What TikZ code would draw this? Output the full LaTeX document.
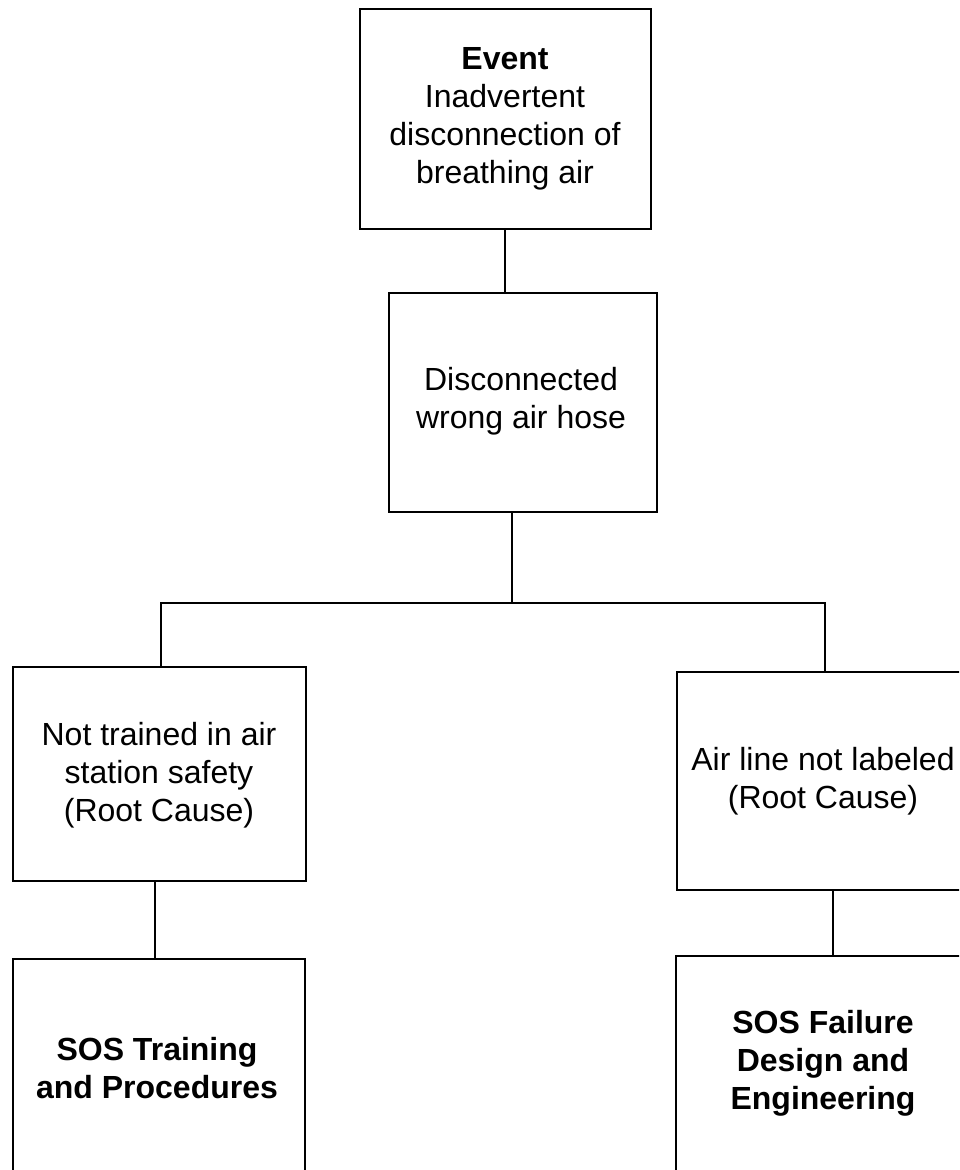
\documentclass[tikz,border=0pt]{standalone}
\usepackage{fontspec}
\setmainfont{Liberation Sans}
\begin{document}
\begin{tikzpicture}[x=1pt,y=-1pt,
  box/.style={draw=black, line width=2.4pt, rectangle, inner sep=0pt, anchor=north west},
  txt/.style={inner sep=0pt, anchor=base, text=black},
  conn/.style={draw=black, line width=2.4pt}]
\useasboundingbox (0,0) rectangle (959,1170);
\clip (0,0) rectangle (959,1170);
\newcommand{\mytxt}[1]{\parbox[t]{320pt}{\centering\fontsize{32}{38}\selectfont #1}}
% boxes
\node[box, minimum width=291pt, minimum height=220pt] (ev) at (359,8) {};
\node[box, minimum width=268pt, minimum height=219pt] (dis) at (388,292) {};
\node[box, minimum width=293pt, minimum height=214pt] (lb) at (12,666) {};
\node[box, minimum width=300pt, minimum height=218pt] (rb) at (676,671) {};
\node[box, minimum width=292pt, minimum height=260pt] (lbb) at (12,958) {};
\node[box, minimum width=300pt, minimum height=260pt] (rbb) at (675,955) {};
% texts
\node[txt] (evt) at (505,69) {\mytxt{\textbf{Event}\\Inadvertent\\disconnection of\\breathing air}};
\node[txt] (dist) at (521,390) {\mytxt{Disconnected\\wrong air hose}};
\node[txt] (lbt) at (159,745) {\mytxt{Not trained in air\\station safety\\(Root Cause)}};
\node[txt] (rbt) at (823,770) {\mytxt{Air line not labeled\\(Root Cause)}};
\node[txt] (lbbt) at (157,1060) {\mytxt{\textbf{SOS Training}\\\textbf{and Procedures}}};
\node[txt] (rbbt) at (823,1033) {\mytxt{\textbf{SOS Failure}\\\textbf{Design and}\\\textbf{Engineering}}};
% junction coordinates
\coordinate (j) at (512,603);
\coordinate (jl) at (161,603);
\coordinate (jr) at (825,603);
\coordinate (cl) at (155,0);
\coordinate (cr) at (833,0);
\coordinate (ce) at (505,0);
% connectors
\draw[conn] (ev.south -| ce) -- (dis.north -| ce);
\draw[conn] (dis.south -| j) -- (j);
\draw[conn] (lb.north -| jl) -- (jl) -- (jr) -- (rb.north -| jr);
\draw[conn] (lb.south -| cl) -- (lbb.north -| cl);
\draw[conn] (rb.south -| cr) -- (rbb.north -| cr);
\end{tikzpicture}
\end{document}
